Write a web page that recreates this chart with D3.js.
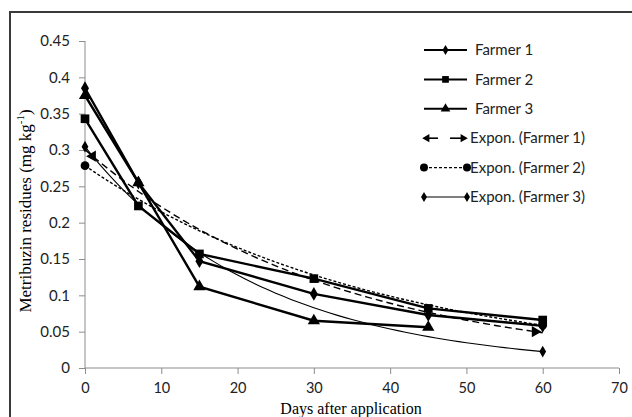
<!DOCTYPE html>
<html>
<head>
<meta charset="utf-8">
<script src="https://cdn.jsdelivr.net/npm/d3@7"></script>
<style>
  body { margin: 0; background: #fff; }
  svg { display: block; }
</style>
</head>
<body>
<svg id="chart" width="632" height="417"></svg>
<script>
// data
const days = [0, 7, 15, 30, 45, 60];
const farmer1 = [0.385, 0.255, 0.147, 0.102, 0.073, 0.058];
const farmer2 = [0.343, 0.223, 0.157, 0.123, 0.082, 0.066];
const farmer3 = [0.375, 0.255, 0.112, 0.065, 0.056];
const xTicks = [0, 10, 20, 30, 40, 50, 60, 70];
const yTicks = [0, 0.05, 0.1, 0.15, 0.2, 0.25, 0.3, 0.35, 0.4, 0.45];
const seriesNames = ["Farmer 1", "Farmer 2", "Farmer 3", "Expon. (Farmer 1)", "Expon. (Farmer 2)", "Expon. (Farmer 3)"];

const svg = d3.select("#chart");
const x = d3.scaleLinear().domain([0, 70]).range([85, 619]);
const y = d3.scaleLinear().domain([0, 0.45]).range([368, 41]);
const sans = "15px Lato, 'Open Sans', sans-serif";
const serif = "17px 'Liberation Serif', 'DejaVu Serif', serif";

// outer frame (cropped on right and bottom)
svg.append("rect")
  .attr("x", 10).attr("y", 12).attr("width", 660).attr("height", 440)
  .attr("fill", "none").attr("stroke", "#3a3a3a").attr("stroke-width", 2);

// axes
const axisColor = "#8c8c8c";
const xAxis = svg.append("g").attr("transform", `translate(0,${y(0)})`)
  .call(d3.axisBottom(x).tickValues(xTicks).tickSize(6).tickPadding(9).tickFormat(d3.format("d")));
const yAxis = svg.append("g").attr("transform", `translate(${x(0)},0)`)
  .call(d3.axisLeft(y).tickValues(yTicks).tickSize(6).tickPadding(9).tickFormat(d => d === 0 ? "0" : String(+d.toFixed(2))));
[xAxis, yAxis].forEach(a => {
  a.selectAll("path, line").attr("stroke", axisColor);
  a.select(".domain").attr("d", a === xAxis ? `M${x(0)},0H${x(70)}` : `M0,${y(0)}V${y(0.45)}`);
  a.selectAll("text").style("font", sans).attr("fill", "#222");
});
xAxis.selectAll("text").style("font-size", "14.5px");

// axis titles
svg.append("text")
  .attr("transform", `translate(31,211) rotate(-90)`)
  .attr("text-anchor", "middle")
  .style("font", serif)
  .html('Metribuzin residues (mg kg<tspan dy="-7" font-size="11">-1</tspan><tspan dy="7">)</tspan>');
svg.append("text")
  .attr("x", 351).attr("y", 413.5)
  .attr("text-anchor", "middle")
  .style("font", "16px 'Liberation Serif', 'DejaVu Serif', serif")
  .text("Days after application");

// exponential fit (Excel style: regression on ln y)
function expFit(xs, ys) {
  const n = ys.length;
  const xv = xs.slice(0, n);
  const ly = ys.map(Math.log);
  const mx = d3.mean(xv), my = d3.mean(ly);
  const b = d3.sum(xv, (v, i) => (v - mx) * (ly[i] - my)) / d3.sum(xv, v => (v - mx) * (v - mx));
  const a = Math.exp(my - b * mx);
  return t => a * Math.exp(b * t);
}

const line = d3.line().x(d => x(d[0])).y(d => y(d[1]));
const sym = (type, size) => d3.symbol().type(type).size(size)();

// trendlines
const fits = [
  { f: expFit(days, farmer1), dash: "7,4", width: 1.4, end: "arrow" },
  { f: expFit(days, farmer2), dash: "3,2", width: 1.4, end: "circle" },
  { f: expFit(days, farmer3), dash: null, width: 1.1, end: "diamond" }
];
const steps = d3.range(0, 61, 1);
fits.forEach(t => {
  const pts = steps.map(s => [s, t.f(s)]);
  svg.append("path").datum(pts).attr("d", line)
    .attr("fill", "none").attr("stroke", "#000").attr("stroke-width", t.width)
    .attr("stroke-dasharray", t.dash);
  const ends = [[0, t.f(0)], [60, t.f(60)]];
  ends.forEach((e, i) => {
    let p, rot = 0, sx = x(e[0]), sy = y(e[1]);
    if (t.end === "arrow") {
      p = sym(d3.symbolTriangle, 55);
      const ex = i === 0 ? 1 : 59;
      sx = x(ex); sy = y(t.f(ex));
      rot = i === 0 ? -90 : 90;
    } else if (t.end === "circle") p = sym(d3.symbolCircle, 60);
    else p = sym(d3.symbolDiamond, 40);
    svg.append("path").attr("d", p)
      .attr("transform", `translate(${sx},${sy}) rotate(${rot})`).attr("fill", "#000");
  });
});

// data series
const series = [
  { vals: farmer1, type: d3.symbolDiamond, size: 55 },
  { vals: farmer2, type: d3.symbolSquare, size: 75 },
  { vals: farmer3, type: d3.symbolTriangle, size: 65 }
];
series.forEach(s => {
  const pts = s.vals.map((v, i) => [days[i], v]);
  svg.append("path").datum(pts).attr("d", line)
    .attr("fill", "none").attr("stroke", "#000").attr("stroke-width", 2.4);
  svg.append("g").selectAll("path").data(pts).enter().append("path")
    .attr("d", sym(s.type, s.size))
    .attr("transform", d => `translate(${x(d[0])},${y(d[1])})`)
    .attr("fill", "#000");
});

// legend
const lg = svg.append("g").style("font", sans);
const lx0 = 424, lx1 = 467, ly0 = 50, lstep = 29.4;
seriesNames.forEach((name, i) => {
  const yy = ly0 + i * lstep;
  const g = lg.append("g").attr("transform", `translate(0,${yy})`);
  if (i < 3) {
    g.append("line").attr("x1", lx0).attr("x2", lx1).attr("stroke", "#000").attr("stroke-width", 2);
    g.append("path").attr("d", sym(series[i].type, [30, 45, 40][i]))
      .attr("transform", `translate(${(lx0 + lx1) / 2},0)`).attr("fill", "#000");
  } else if (i === 3) {
    g.append("line").attr("x1", lx0 + 3).attr("x2", lx0 + 14).attr("stroke", "#000").attr("stroke-width", 1.6);
    g.append("line").attr("x1", lx1 - 17).attr("x2", lx1 - 4).attr("stroke", "#000").attr("stroke-width", 1.6);
    g.append("path").attr("d", sym(d3.symbolTriangle, 30)).attr("transform", `translate(${lx0 + 3},0) rotate(-90)`);
    g.append("path").attr("d", sym(d3.symbolTriangle, 30)).attr("transform", `translate(${lx1 - 4},0) rotate(90)`);
  } else if (i === 4) {
    g.append("line").attr("x1", lx0).attr("x2", lx1).attr("stroke", "#000").attr("stroke-width", 1.2).attr("stroke-dasharray", "3,2");
    [lx0, lx1].forEach(cx => g.append("path").attr("d", sym(d3.symbolCircle, 50)).attr("transform", `translate(${cx},0)`));
  } else {
    g.append("line").attr("x1", lx0).attr("x2", lx1).attr("stroke", "#000").attr("stroke-width", 1.2);
    [lx0, lx1].forEach(cx => g.append("path").attr("d", sym(d3.symbolDiamond, 30)).attr("transform", `translate(${cx},0)`));
  }
  g.append("text").attr("x", i < 3 ? 475 : 470).attr("dy", "0.35em").attr("fill", "#222").text(name);
});
</script>
</body>
</html>
